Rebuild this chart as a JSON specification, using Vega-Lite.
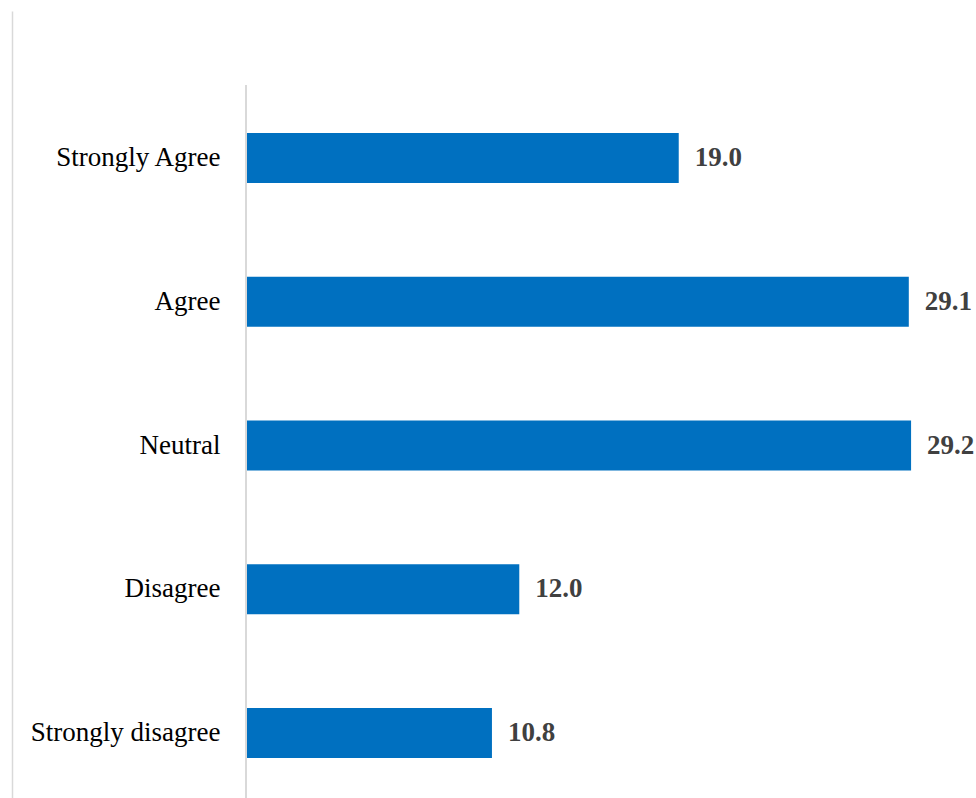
{
  "$schema": "https://vega.github.io/schema/vega-lite/v6.json",
  "width": 964,
  "height": 794,
  "autosize": {"type": "none"},
  "padding": {"left": 12, "top": 11, "right": 0, "bottom": 0},
  "background": "white",
  "config": {"view": {"stroke": null}},
  "data": {
    "values": [
      {"category": "Strongly Agree", "value": 19.0},
      {"category": "Agree", "value": 29.1},
      {"category": "Neutral", "value": 29.2},
      {"category": "Disagree", "value": 12.0},
      {"category": "Strongly disagree", "value": 10.8}
    ]
  },
  "layer": [
    {
      "mark": {"type": "bar", "color": "#0070C0"},
      "encoding": {
        "y": {
          "field": "category",
          "type": "nominal",
          "scale": {
            "domain": ["Strongly Agree", "Agree", "Neutral", "Disagree", "Strongly disagree"],
            "paddingInner": 0.652,
            "paddingOuter": 0.588,
            "align": 0.722
          },
          "axis": {
            "title": null,
            "ticks": false,
            "domainColor": "#d9d9d9",
            "domainWidth": 1.5,
            "labelPadding": -208,
            "labelAlign": "right",
            "labelFont": "Liberation Serif",
            "labelFontSize": 27,
            "labelColor": "#000000",
            "labelLimit": 400
          }
        },
        "x": {
          "field": "value",
          "type": "quantitative",
          "scale": {"domain": [-10.27, 32.05], "nice": false, "zero": false},
          "axis": null
        }
      }
    },
    {
      "mark": {"type": "rule", "color": "#d9d9d9", "strokeWidth": 1.5},
      "encoding": {
        "x": {"datum": 0, "type": "quantitative"},
        "y": {"datum": "Strongly Agree", "type": "nominal", "bandPosition": -0.96},
        "y2": {"datum": "Strongly disagree", "bandPosition": 1.94}
      }
    },
    {
      "mark": {
        "type": "text",
        "align": "left",
        "baseline": "middle",
        "dx": 16,
        "font": "Liberation Serif",
        "fontSize": 27,
        "fontWeight": "bold",
        "color": "#404040"
      },
      "encoding": {
        "y": {"field": "category", "type": "nominal"},
        "x": {"field": "value", "type": "quantitative"},
        "text": {"field": "value", "type": "quantitative", "format": ".1f"}
      }
    }
  ]
}
